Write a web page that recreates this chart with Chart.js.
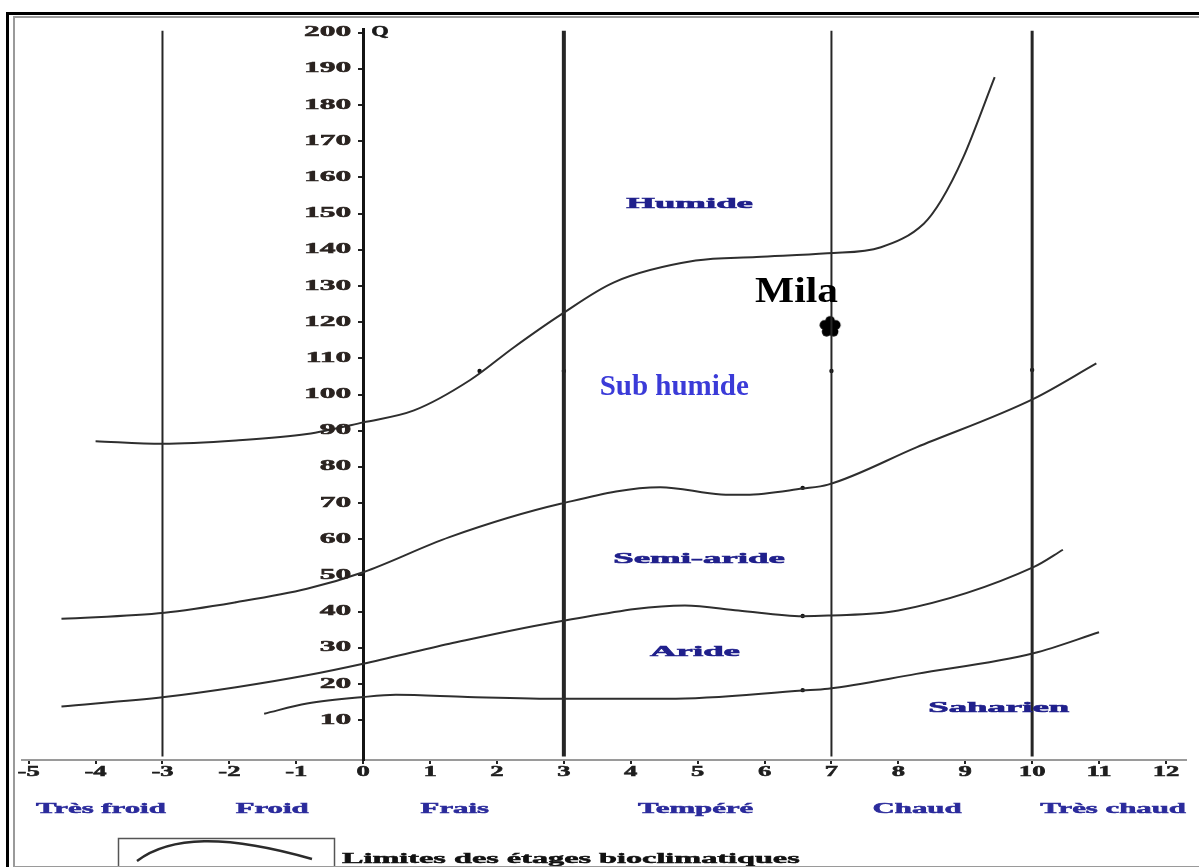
<!DOCTYPE html>
<html>
<head>
<meta charset="utf-8">
<title>Climagramme d'Emberger - Mila</title>
<script src="https://cdn.jsdelivr.net/npm/chart.js@4.4.1/dist/chart.umd.min.js"></script>
<style>
  html, body { margin: 0; padding: 0; background: #fff; }
  #wrap { position: relative; width: 1199px; height: 867px; overflow: hidden; }
  #wrap canvas { position: absolute; left: 0; top: 0; }
  .frame-outer { position: absolute; left: 6px; top: 12px; right: -10px; bottom: -10px; border-left: 3px solid #000; border-top: 3px solid #000; }
  .frame-inner { position: absolute; left: 13px; top: 16px; right: -10px; height: 848px; border-left: 2px solid #9a9a9a; border-top: 2px solid #9a9a9a; border-bottom: 2px solid #9a9a9a; }
</style>
</head>
<body>
<div id="wrap">
  <canvas id="climagramme"></canvas>
  <div class="frame-outer"></div>
  <div class="frame-inner"></div>
</div>
<script>
// axes: m (°C) en abscisse, Q2 en ordonnée
const tTicks = [-5, -4, -3, -2, -1, 0, 1, 2, 3, 4, 5, 6, 7, 8, 9, 10, 11, 12];
const qTicks = [10, 20, 30, 40, 50, 60, 70, 80, 90, 100, 110, 120, 130, 140, 150, 160, 170, 180, 190, 200];

// limites des étages bioclimatiques
const humideT = [-4.0, -3.0, -1.9, -0.84, 0, 0.76, 1.6, 2.25, 2.95, 3.75, 4.97, 5.88, 6.94, 7.74, 8.38, 8.64, 8.97, 9.44];
const humideQ = [87.1, 86.4, 87.3, 89.1, 92.3, 95.6, 104, 113, 122, 131, 137, 138, 139, 140.7, 147.2, 153.6, 165.5, 187.7];

const subHumideT = [-4.51, -2.97, -1.9, -0.84, 0, 1.29, 2.95, 4.44, 5.35, 5.72, 6.57, 6.95, 8.27, 10.02, 10.96];
const subHumideQ = [38.0, 39.7, 42.6, 46.3, 50.9, 60.6, 69.8, 74.4, 72.4, 72.3, 74.0, 75.1, 85.4, 98.8, 108.6];

const semiArideT = [-4.51, -2.97, -1.9, -0.84, 0, 1.29, 2.97, 4.81, 5.61, 6.57, 6.95, 8.0, 10.02, 10.46];
const semiArideQ = [13.8, 16.4, 19.1, 22.4, 25.6, 31.1, 37.4, 41.7, 40.3, 38.7, 38.9, 40.3, 52.3, 57.1];

const arideT = [-1.48, -0.84, 0, 0.49, 1.56, 2.97, 4.55, 6.57, 6.95, 8.27, 10.02, 11.0];
const arideQ = [11.8, 14.6, 16.4, 17.0, 16.4, 15.9, 15.9, 18.2, 18.7, 22.8, 28.5, 34.3];

// petits points de repère du tracé original
const markT = [1.74, 3, 7, 10, 6.57, 6.57, 6.57];
const markQ = [106.5, 106.5, 106.5, 106.8, 74.2, 38.8, 18.3];

// limites des variantes thermiques (verticales)
const dividerT = [-3, 3, 7, 10];
const dividerTop = 200.5;

// étages et variantes (position des libellés, en unités des axes)
const zoneNames = ['Humide', 'Semi-aride', 'Aride', 'Saharien'];
const zoneT = [4.88, 5.02, 4.96, 9.5];
const zoneQ = [152.7, 54.6, 28.9, 13.4];
const subHumideLabel = { text: 'Sub humide', t: 4.65, q: 101.8 };

const thermalNames = ['Très froid', 'Froid', 'Frais', 'Tempéré', 'Chaud', 'Très chaud'];
const thermalT = [-3.92, -1.36, 1.37, 4.97, 8.28, 11.21];

// station
const stationName = 'Mila';
const stationT = [6.98];
const stationQ = [118.7];

const zip = (xs, ys) => xs.map((x, i) => ({ x: x, y: ys[i] }));

// marqueur de la station (fleur noire)
function flowerMarker() {
    const c = document.createElement('canvas');
    c.width = 24; c.height = 24;
    const g = c.getContext('2d');
    g.fillStyle = '#000';
    for (let k = 0; k < 5; k++) {
        const a = -Math.PI / 2 + k * 2 * Math.PI / 5;
        g.beginPath();
        g.arc(12 + Math.cos(a) * 6, 12 + Math.sin(a) * 6, 4.8, 0, Math.PI * 2);
        g.fill();
    }
    g.beginPath();
    g.arc(12, 12, 6.5, 0, Math.PI * 2);
    g.fill();
    return c;
}

function wideText(ctx, text, x, y, font, sx, align, color, stroke) {
    ctx.save();
    ctx.font = font;
    ctx.fillStyle = color;
    ctx.textBaseline = 'middle';
    ctx.textAlign = 'left';
    const w = ctx.measureText(text).width * sx;
    const left = align === 'center' ? x - w / 2 : (align === 'right' ? x - w : x);
    ctx.translate(left, y);
    ctx.scale(sx, 1);
    ctx.fillText(text, 0, 0);
    if (stroke) {
        ctx.strokeStyle = color;
        ctx.lineWidth = stroke;
        ctx.strokeText(text, 0, 0);
    }
    ctx.restore();
}

const SERIF = '"Liberation Serif", "Times New Roman", serif';

const labelsPlugin = {
    id: 'labels',
    afterDraw(chart) {
        const ctx = chart.ctx;
        const xs = chart.scales.x;
        const ys = chart.scales.y;
        const axisX = xs.getPixelForValue(0);
        const axisY = xs.top;

        // graduations Q
        ys.ticks.forEach(t => {
            if (t.value <= 0) return;
            wideText(ctx, String(t.value), axisX - 12, ys.getPixelForValue(t.value), 'bold 14px ' + SERIF, 2.25, 'right', '#2a2320', 0.5);
        });
        wideText(ctx, 'Q', axisX + 8, ys.getPixelForValue(200), 'bold 14px ' + SERIF, 1.6, 'left', '#1a1a1a', 0.5);

        // graduations m
        xs.ticks.forEach(t => {
            wideText(ctx, String(t.value), xs.getPixelForValue(t.value), axisY + 12, 'bold 14px ' + SERIF, 1.9, 'center', '#1e1e1e', 0.5);
        });

        // variantes thermiques
        thermalNames.forEach((name, i) => {
            wideText(ctx, name, xs.getPixelForValue(thermalT[i]), axisY + 49, 'bold 14px ' + SERIF, 2.2, 'center', '#2b2b9c', 0.5);
        });

        // étages
        zoneNames.forEach((name, i) => {
            wideText(ctx, name, xs.getPixelForValue(zoneT[i]), ys.getPixelForValue(zoneQ[i]), 'bold 15px ' + SERIF, 2.45, 'center', '#20208c', 0.6);
        });
        ctx.save();
        ctx.font = 'bold 29px ' + SERIF;
        ctx.fillStyle = '#3b3bd8';
        ctx.textAlign = 'center';
        ctx.textBaseline = 'middle';
        ctx.fillText(subHumideLabel.text, xs.getPixelForValue(subHumideLabel.t), ys.getPixelForValue(subHumideLabel.q));
        ctx.restore();

        // station
        wideText(ctx, stationName, xs.getPixelForValue(stationT[0]) - 75, ys.getPixelForValue(stationQ[0]) - 34, 'bold 36px ' + SERIF, 1.15, 'left', '#000');

        // légende
        ctx.save();
        ctx.strokeStyle = '#555';
        ctx.lineWidth = 1.5;
        ctx.strokeRect(118.5, 838.5, 216, 40);
        ctx.strokeStyle = '#2b2b2b';
        ctx.lineWidth = 2.5;
        ctx.beginPath();
        ctx.moveTo(137, 861);
        ctx.bezierCurveTo(170, 836, 225, 834, 312, 859);
        ctx.stroke();
        ctx.restore();
        wideText(ctx, 'Limites des étages bioclimatiques', 342, 859, 'bold 15px ' + SERIF, 2.15, 'left', '#111', 0.5);
    }
};

const curveStyle = {
    showLine: true,
    pointRadius: 0,
    borderColor: '#2e2e2e',
    borderWidth: 2,
    cubicInterpolationMode: 'monotone',
    fill: false
};

const dividerWidths = [2, 4, 2, 3];

const datasets = [
    Object.assign({ label: 'Humide / Sub humide', data: zip(humideT, humideQ) }, curveStyle),
    Object.assign({ label: 'Sub humide / Semi-aride', data: zip(subHumideT, subHumideQ) }, curveStyle),
    Object.assign({ label: 'Semi-aride / Aride', data: zip(semiArideT, semiArideQ) }, curveStyle),
    Object.assign({ label: 'Aride / Saharien', data: zip(arideT, arideQ) }, curveStyle)
];

dividerT.forEach((t, i) => {
    datasets.push({
        label: 'm = ' + t,
        data: [{ x: t, y: 0 }, { x: t, y: dividerTop }],
        showLine: true,
        pointRadius: 0,
        borderColor: '#262626',
        borderWidth: dividerWidths[i]
    });
});

datasets.push({
    label: 'repères',
    data: zip(markT, markQ),
    pointRadius: 2.2,
    pointBackgroundColor: '#111',
    pointBorderWidth: 0,
    showLine: false
});

datasets.push({
    label: stationName,
    data: zip(stationT, stationQ),
    pointStyle: flowerMarker(),
    pointRadius: 12,
    showLine: false
});

const ctx = document.getElementById('climagramme').getContext('2d');
new Chart(ctx, {
    type: 'scatter',
    data: { datasets: datasets },
    options: {
        responsive: true,
        maintainAspectRatio: false,
        animation: false,
        layout: { padding: { left: 22, right: 0, top: 29, bottom: 0 } },
        plugins: {
            legend: { display: false },
            tooltip: { enabled: false }
        },
        scales: {
            x: {
                type: 'linear',
                min: -5.1,
                max: 12.3,
                position: 'bottom',
                afterBuildTicks: s => { s.ticks = tTicks.map(v => ({ value: v })); },
                afterFit: s => { s.height = 107; },
                ticks: { display: false },
                grid: { drawOnChartArea: false, drawTicks: true, tickLength: 4, color: '#222', lineWidth: 2 },
                border: { display: true, color: '#9a9a9a', width: 2 }
            },
            y: {
                type: 'linear',
                min: -1,
                max: 201,
                position: { x: 0 },
                afterBuildTicks: s => { s.ticks = qTicks.map(v => ({ value: v })); },
                afterFit: s => { s.width = 0; },
                ticks: { display: false },
                grid: { drawOnChartArea: false, drawTicks: true, tickLength: 4, color: '#222', lineWidth: 2 },
                border: { display: true, color: '#141414', width: 3 }
            }
        }
    },
    plugins: [labelsPlugin]
});
</script>
</body>
</html>
